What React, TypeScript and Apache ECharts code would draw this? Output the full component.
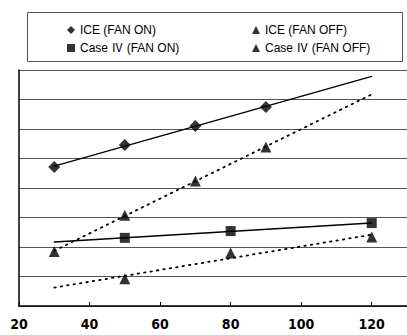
import React, { useEffect, useRef } from "react";
import * as echarts from "echarts";

const iceX = [30, 50, 70, 90];
const iceFanOn = [4.71, 5.46, 6.1, 6.75];
const iceFanOff = [1.85, 3.08, 4.24, 5.39];
const caseX = [50, 80, 120];
const caseFanOn = [2.31, 2.54, 2.81];
const caseFanOff = [0.92, 1.8, 2.34];
const fitRange = [30, 120];
const names = ["ICE (FAN ON)", "ICE (FAN OFF)", "Case Ⅳ (FAN ON)", "Case Ⅳ (FAN OFF)"];

function fit(xs: number[], ys: number[]) {
  const n = xs.length;
  const mx = xs.reduce((a, b) => a + b, 0) / n;
  const my = ys.reduce((a, b) => a + b, 0) / n;
  let sxy = 0, sxx = 0;
  for (let i = 0; i < n; i++) {
    sxy += (xs[i] - mx) * (ys[i] - my);
    sxx += (xs[i] - mx) * (xs[i] - mx);
  }
  const b = sxy / sxx;
  const a = my - b * mx;
  return fitRange.map((x) => [x, a + b * x]);
}

const zip = (xs: number[], ys: number[]) => xs.map((x, i) => [x, ys[i]]);

export default function App() {
  const ref = useRef<HTMLDivElement>(null);
  useEffect(() => {
    const chart = echarts.init(ref.current!, null, { renderer: "svg" });
    const font = "'Liberation Sans', Arial, 'Noto Sans CJK KR', sans-serif";
    const scatter = (name: string, data: number[][], symbol: string, size: number) => ({
      type: "scatter",
      name,
      data,
      symbol,
      symbolSize: size,
      itemStyle: { color: "#000" },
      z: 5,
    });
    const trend = (data: number[][], dotted: boolean) => ({
      type: "line",
      data,
      symbol: "none",
      silent: true,
      lineStyle: { color: "#000", width: dotted ? 1.8 : 1.5, type: dotted ? [1.5, 5] : "solid", cap: "round" },
      z: 3,
    });
    chart.setOption({
      animation: false,
      backgroundColor: "#fff",
      grid: { left: 19, top: 70, width: 393, height: 236, containLabel: false },
      xAxis: {
        type: "value",
        min: 20,
        max: 130,
        interval: 20,
        axisLine: { show: true, lineStyle: { color: "#000", width: 1.5 } },
        axisTick: { show: true, inside: true, length: 4, lineStyle: { color: "#000" } },
        axisLabel: {
          showMaxLabel: false,
          margin: 11,
          fontFamily: "'Liberation Sans Narrow', 'DejaVu Sans Condensed', sans-serif",
          fontWeight: "bold",
          fontSize: 14,
          color: "#000",
        },
        splitLine: { show: false },
      },
      yAxis: {
        type: "value",
        min: 0,
        max: 8,
        interval: 1,
        axisLine: { show: true, lineStyle: { color: "#000", width: 1.5 } },
        axisTick: { show: false },
        axisLabel: { show: false },
        splitLine: { show: true, lineStyle: { color: "#555", width: 1 } },
      },
      legend: [
        {
          data: [
            { name: names[0], icon: "diamond" },
            { name: names[2], icon: "rect" },
          ],
          orient: "vertical",
          left: 62,
          top: 18,
          itemWidth: 8,
          itemHeight: 8,
          itemGap: 4,
          textStyle: { fontFamily: font, fontSize: 12, color: "#000", lineHeight: 14 },
        },
        {
          data: [
            { name: names[1], icon: "triangle" },
            { name: names[3], icon: "triangle" },
          ],
          orient: "vertical",
          left: 247,
          top: 18,
          itemWidth: 8,
          itemHeight: 8,
          itemGap: 4,
          textStyle: { fontFamily: font, fontSize: 12, color: "#000", lineHeight: 14 },
        },
      ],
      graphic: [
        {
          type: "rect",
          shape: { x: 27.5, y: 12.5, width: 375, height: 49 },
          style: { fill: "none", stroke: "#555", lineWidth: 1 },
          silent: true,
        },
      ],
      series: [
        trend(fit(iceX, iceFanOn), false),
        trend(fit(iceX, iceFanOff), true),
        trend(fit(caseX, caseFanOn), false),
        trend(fit(caseX, caseFanOff), true),
        scatter(names[0], zip(iceX, iceFanOn), "diamond", 12),
        scatter(names[1], zip(iceX, iceFanOff), "triangle", 11),
        scatter(names[2], zip(caseX, caseFanOn), "rect", 10),
        scatter(names[3], zip(caseX, caseFanOff), "triangle", 11),
      ],
    });
    return () => chart.dispose();
  }, []);
  return (
    <div
      ref={ref}
      style={{ position: "fixed", left: 0, top: 0, width: 407, height: 335, overflow: "hidden" }}
    />
  );
}
